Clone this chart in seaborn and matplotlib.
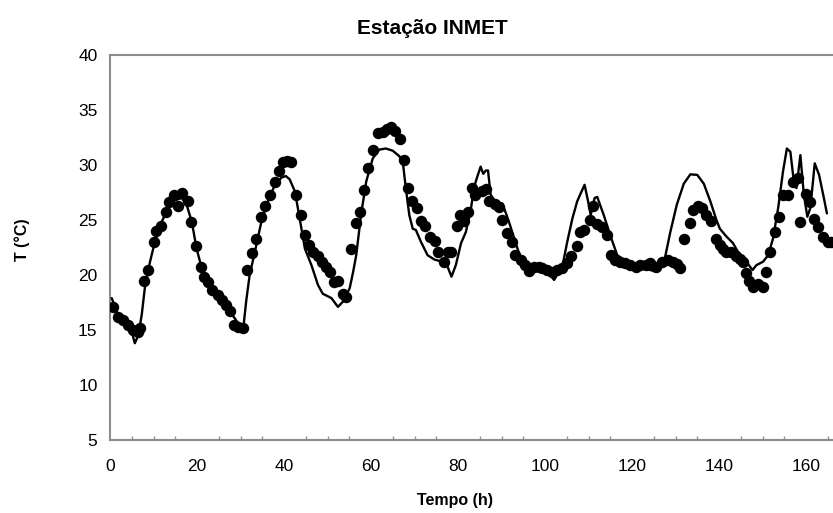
import matplotlib
matplotlib.use("Agg")
import matplotlib.pyplot as plt
import seaborn as sns
import pandas as pd
from matplotlib.ticker import MultipleLocator

# Observed (dots)
obs_h = [0.6, 1.9, 3.1, 4.2, 5.4, 6.5, 6.9, 7.9, 8.7, 10.0, 10.5, 11.7, 12.9, 13.6, 14.8, 15.6, 16.6, 17.9,
         18.6, 19.7, 20.9, 21.5, 22.6, 23.5, 24.8, 25.7, 26.6, 27.5, 28.5, 29.4, 30.6, 31.6, 32.6, 33.6,
         34.8, 35.7, 36.7, 37.9, 38.8, 39.8, 40.8, 41.7, 42.8, 44.0, 44.8, 45.7, 46.7, 47.7, 48.7, 49.7,
         50.5, 51.5, 52.4, 53.6, 54.3, 55.5, 56.6, 57.5, 58.5, 59.4, 60.4, 61.7, 62.7, 63.7, 64.6, 65.5,
         66.7, 67.5, 68.6, 69.4, 70.6, 71.5, 72.4, 73.6, 74.6, 75.5, 76.7, 77.8, 78.5, 79.8, 80.5, 81.4,
         82.2, 83.2, 84.0, 85.6, 86.4, 87.1, 88.4, 89.4, 90.2, 91.2, 92.3, 93.2, 94.4, 95.3, 96.3, 97.5,
         98.6, 99.4, 100.5, 101.7, 102.8, 103.8, 105.0, 106.0, 107.3, 108.0, 108.9, 110.3, 111.1, 112.0,
         113.1, 114.2, 115.2, 116.2, 117.3, 118.5, 119.6, 120.8, 121.9, 123.1, 124.2, 125.4, 126.9, 128.2,
         129.4, 130.3, 131.0, 132.0, 133.3, 134.0, 135.1, 136.1, 137.1, 138.2, 139.2, 140.2, 140.9, 141.7,
         142.8, 143.8, 144.8, 145.5, 146.1, 147.0, 147.8, 149.0, 150.0, 150.9, 151.8, 152.8, 153.8, 154.7,
         155.9, 157.0, 158.2, 158.7, 159.9, 161.0, 161.8, 162.8, 163.9, 165.1, 165.8]
obs_T = [17.1, 16.2, 15.9, 15.45, 15.0, 14.85, 15.2, 19.5, 20.5, 23.0, 24.0, 24.5, 25.7, 26.6, 27.3, 26.3, 27.5, 26.7,
         24.85, 22.6, 20.75, 19.85, 19.4, 18.6, 18.2, 17.7, 17.3, 16.7, 15.5, 15.3, 15.15, 20.5, 22.0, 23.3,
         25.3, 26.3, 27.3, 28.5, 29.5, 30.3, 30.4, 30.3, 27.3, 25.45, 23.6, 22.7, 22.1, 21.7, 21.2, 20.75,
         20.3, 19.4, 19.45, 18.3, 18.0, 22.4, 24.7, 25.75, 27.7, 29.7, 31.4, 32.9, 33.0, 33.3, 33.5, 33.1,
         32.4, 30.5, 27.9, 26.7, 26.1, 24.9, 24.5, 23.5, 23.1, 22.1, 21.15, 22.1, 22.1, 24.5, 25.45, 24.9,
         25.7, 27.9, 27.3, 27.6, 27.8, 26.7, 26.5, 26.2, 25.0, 23.8, 23.0, 21.8, 21.4, 20.9, 20.4, 20.7,
         20.75, 20.6, 20.45, 20.3, 20.45, 20.6, 21.05, 21.7, 22.6, 23.9, 24.1, 25.0, 26.3, 24.6,
         24.4, 23.6, 21.8, 21.4, 21.2, 21.05, 20.9, 20.75, 20.9, 20.9, 21.05, 20.75, 21.2, 21.4,
         21.2, 21.0, 20.6, 23.3, 24.7, 25.9, 26.3, 26.1, 25.5, 24.9, 23.3, 22.7, 22.4, 22.1,
         22.1, 21.7, 21.5, 21.2, 20.15, 19.5, 18.9, 19.2, 18.9, 20.3, 22.1, 23.9, 25.3, 27.3,
         27.3, 28.5, 28.8, 24.85, 27.4, 26.6, 25.1, 24.4, 23.5, 23.0, 23.0]

# Simulated (line)
sim_h = [0.4, 1.9, 3.4, 5.0, 5.7, 6.5, 7.3, 8.0, 9.2, 10.3, 11.9, 13.4, 14.9, 16.5, 17.6, 18.8, 19.9, 21.1,
         22.6, 24.1, 26.4, 28.7, 30.2, 30.6, 31.3, 32.1, 33.3, 34.8, 36.3, 37.9, 39.4, 40.4, 41.3, 42.5,
         43.6, 44.8, 46.3, 47.8, 48.9, 50.9, 52.4, 53.6, 55.1, 55.9, 56.6, 57.7, 58.9, 60.4, 61.9, 63.4,
         65.0, 66.5, 67.3, 68.0, 68.8, 69.6, 70.3, 71.5, 73.0, 74.6, 76.5, 77.6, 78.5, 79.5, 80.7, 81.8,
         83.0, 83.7, 84.4, 85.2, 85.8, 86.4, 86.9, 87.5, 88.7, 90.2, 91.7, 93.2, 94.4, 95.9, 98.2, 100.2,
         102.1, 103.2, 104.2, 105.1, 106.3, 107.4, 108.4, 109.1, 109.9, 110.5, 111.4, 112.0, 113.5, 115.0,
         116.6, 118.9, 121.9, 124.2, 125.7, 126.9, 127.7, 128.8, 130.3, 131.9, 133.4, 135.0, 136.5, 138.0,
         139.4, 140.2, 141.7, 143.2, 144.8, 146.3, 147.7, 148.6, 150.1, 151.3, 152.4, 153.6, 154.7, 155.6,
         156.4, 157.2, 157.8, 158.7, 159.5, 160.3, 161.0, 162.0, 163.0, 164.1, 164.8]
sim_T = [17.9, 16.3, 15.6, 14.85, 13.8, 14.5, 16.4, 18.8, 21.2, 23.0, 24.85, 26.1, 26.8, 27.0, 26.4, 24.85, 22.4, 20.6,
         19.4, 18.5, 17.3, 16.05, 15.15, 15.0, 17.6, 20.0, 22.1, 24.85, 26.7, 28.2, 28.85, 29.0, 28.7, 27.6,
         25.15, 22.4, 20.9, 19.1, 18.3, 17.9, 17.1, 17.6, 18.8, 20.3, 21.8, 25.45, 28.5, 30.6, 31.4, 31.5,
         31.3, 30.8, 30.3, 27.9, 25.45, 24.2, 24.1, 23.0, 21.8, 21.4, 21.2, 20.75, 19.85, 20.9, 22.9, 23.9,
         26.1, 28.0, 28.9, 29.85, 29.2, 29.5, 29.5, 27.3, 26.6, 26.5, 24.85, 23.0, 21.5, 20.75, 20.6, 20.4,
         19.55, 20.3, 21.2, 23.0, 25.15, 26.7, 27.6, 28.2, 26.7, 25.45, 27.0, 27.1, 25.45, 23.6,
         21.8, 21.2, 20.75, 20.45, 20.3, 20.75, 21.8, 23.9, 26.4, 28.3, 29.15, 29.1, 28.3, 26.7,
         25.0, 24.2, 23.5, 22.9, 21.8, 21.2, 20.45, 20.9, 21.2, 21.8, 23.3, 26.1, 29.4, 31.5,
         31.2, 28.5, 27.9, 30.9, 27.3, 25.3, 26.1, 30.15, 29.1, 27.0, 25.6]

x_ticks = [0, 20, 40, 60, 80, 100, 120, 140, 160]
y_ticks = [5, 10, 15, 20, 25, 30, 35, 40]

obs = pd.DataFrame({"h": obs_h, "T": obs_T})
sim = pd.DataFrame({"h": sim_h, "T": sim_T})

sns.set_style("white")
plt.rcParams["font.family"] = ["Liberation Sans Narrow", "Liberation Sans", "DejaVu Sans"]
plt.rcParams["text.color"] = "black"

fig = plt.figure(figsize=(8.33, 5.13), dpi=100)
ax = fig.add_axes([110 / 833, 1 - 440 / 513, 1 - 110 / 833, (440 - 55) / 513])

sns.lineplot(data=sim, x="h", y="T", ax=ax, color="black", linewidth=1.7,
             sort=False, estimator=None, zorder=3)
sns.scatterplot(data=obs, x="h", y="T", ax=ax, color="black", s=68,
                edgecolor="black", linewidth=0, zorder=4)

ax.set_xlim(0, 166.2)
ax.set_ylim(5, 40)
ax.set_xticks(x_ticks)
ax.set_yticks(y_ticks)
ax.xaxis.set_minor_locator(MultipleLocator(5))
ax.tick_params(axis="x", which="major", direction="in", length=5, width=1, color="#8c8c8c",
               labelsize=12.5, pad=14, labelcolor="black")
ax.tick_params(axis="x", which="minor", direction="in", length=3, width=1, color="#8c8c8c", bottom=True)
ax.tick_params(axis="y", which="major", direction="out", length=0, labelsize=12.5, pad=9,
               labelcolor="black")
ax.set_xlabel("")
ax.set_ylabel("")

for side in ["left", "bottom", "top"]:
    ax.spines[side].set_color("#8c8c8c")
    ax.spines[side].set_linewidth(1.5)
ax.spines["right"].set_visible(False)

fig.text(432 / 833, 1 - 28 / 513, "Estação INMET", ha="center", va="center",
         fontsize=15, fontweight="bold", color="black")
fig.text(455 / 833, 1 - 500 / 513, "Tempo (h)", ha="center", va="center",
         fontsize=11.5, fontweight="bold", color="black")
fig.text(22 / 833, 1 - 240 / 513, "T (°C)", ha="center", va="center", rotation=90,
         fontsize=11.5, fontweight="bold", color="black")

fig.savefig("out.png", dpi=100)
